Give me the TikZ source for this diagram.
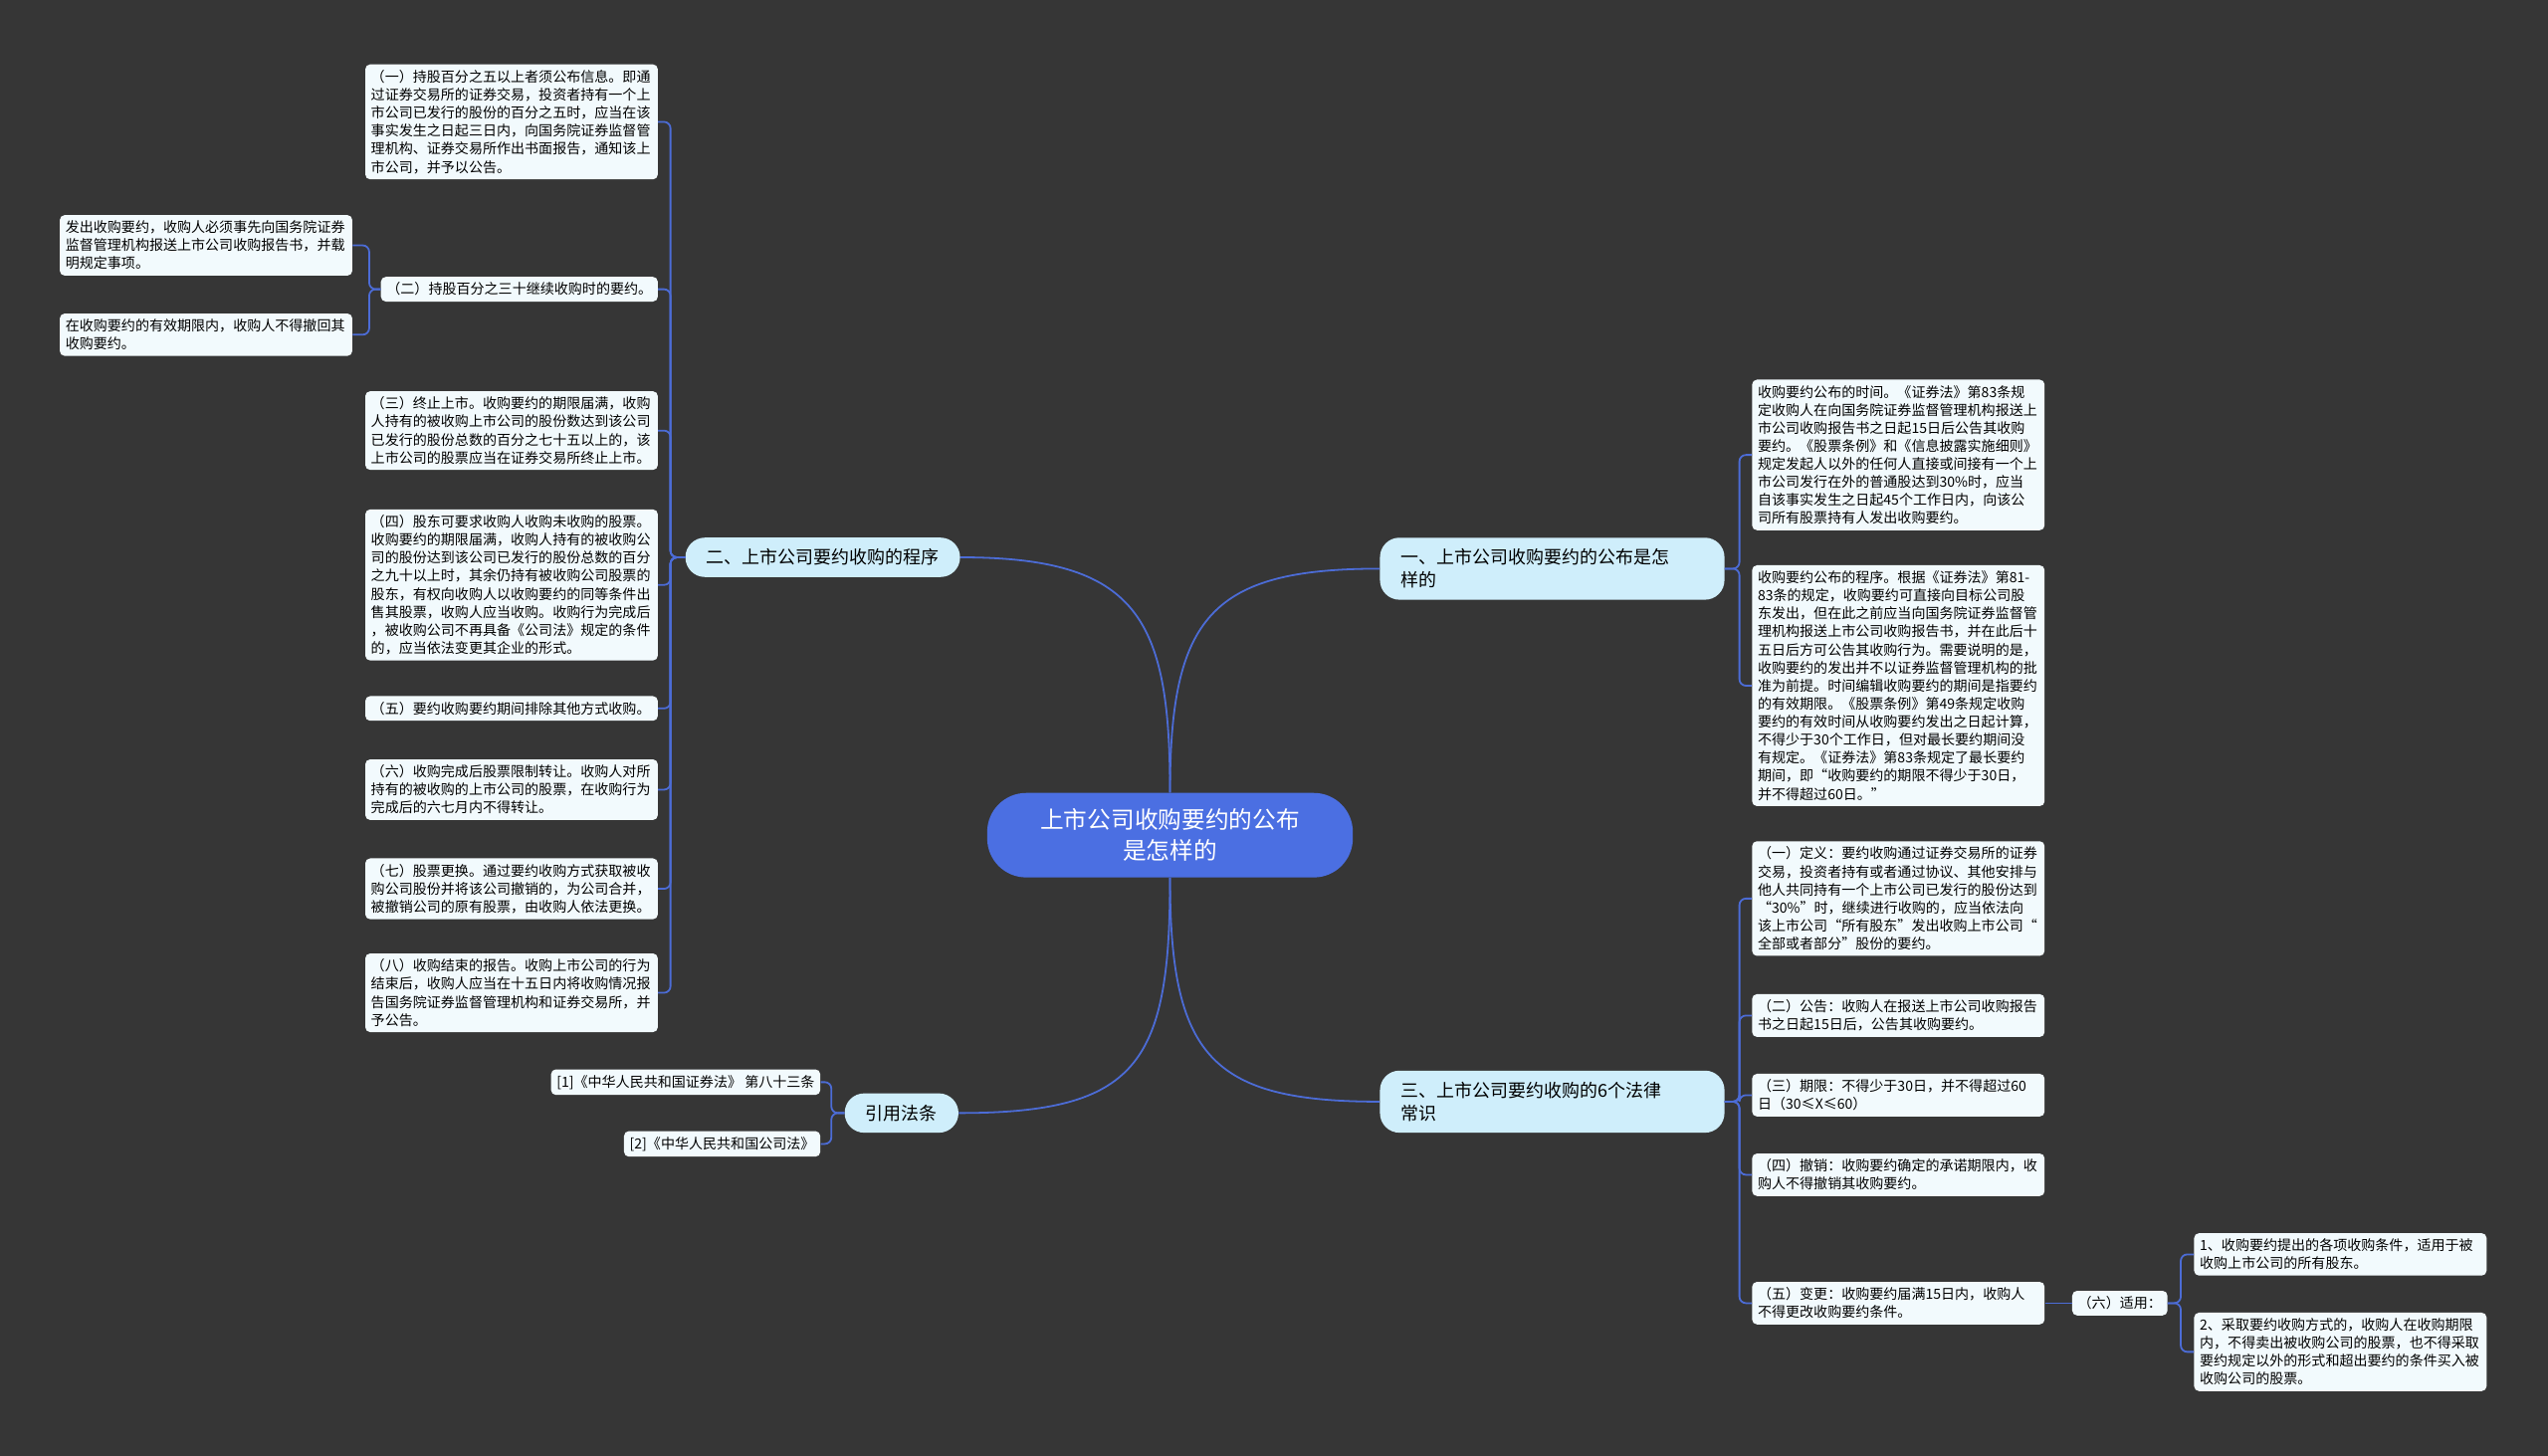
\documentclass[tikz,border=0pt]{standalone}
\usepackage{fontspec}
\setmainfont{Noto Sans CJK SC}
\definecolor{bgc}{HTML}{363636}
\definecolor{linkc}{HTML}{4C6CD6}
\definecolor{leafbg}{HTML}{F2FAFD}
\definecolor{branchbg}{HTML}{CFEEFB}
\definecolor{rootbg}{HTML}{4B6FE2}

\begin{document}
\begin{tikzpicture}[x=1pt,y=-1pt,
    leaf/.style={fill=leafbg, rounded corners=3pt, inner sep=3.5pt, text width=173pt, align=left, font=\fontsize{8.6}{11.1}\selectfont},
    tag/.style={fill=leafbg, rounded corners=3pt, inner sep=3.5pt, align=left, font=\fontsize{8.6}{11.1}\selectfont},
    branch/.style={fill=branchbg, rounded corners=12pt, inner xsep=13pt, inner ysep=7pt, align=left, font=\fontsize{11}{14}\selectfont},
    link/.style={draw=linkc, line width=1.1pt, rounded corners=4pt}]
    \path[use as bounding box, fill=bgc] (0,0) rectangle (1568,896);

    \node[fill=rootbg, text=white, rounded corners=24pt, minimum width=225pt, minimum height=52pt, align=center, font=\fontsize{14.5}{19}\selectfont] (root) at (720,514) {上市公司收购要约的公布\\是怎样的};

    \node[branch, anchor=west, text width=186pt] (r1) at (849,350) {一、上市公司收购要约的公布是怎\\样的};
    \node[branch, anchor=west, text width=186pt] (r2) at (849,678) {三、上市公司要约收购的6个法律\\常识};
    \node[branch, anchor=east] (l1) at (591,343) {二、上市公司要约收购的程序};
    \node[branch, anchor=east] (l2) at (590,685) {引用法条};

    \node[leaf, anchor=east] (la) at (405,75) {（一）持股百分之五以上者须公布信息。即通\\过证券交易所的证券交易，投资者持有一个上\\市公司已发行的股份的百分之五时，应当在该\\事实发生之日起三日内，向国务院证券监督管\\理机构、证券交易所作出书面报告，通知该上\\市公司，并予以公告。};
    \node[tag, anchor=east] (lb) at (405,178) {（二）持股百分之三十继续收购时的要约。};
    \node[leaf, anchor=east] (lba) at (217,151) {发出收购要约，收购人必须事先向国务院证券\\监督管理机构报送上市公司收购报告书，并载\\明规定事项。};
    \node[leaf, anchor=east] (lbb) at (217,206) {在收购要约的有效期限内，收购人不得撤回其\\收购要约。};
    \node[leaf, anchor=east] (lc) at (405,265) {（三）终止上市。收购要约的期限届满，收购\\人持有的被收购上市公司的股份数达到该公司\\已发行的股份总数的百分之七十五以上的，该\\上市公司的股票应当在证券交易所终止上市。};
    \node[leaf, anchor=east] (ld) at (405,360) {（四）股东可要求收购人收购未收购的股票。\\收购要约的期限届满，收购人持有的被收购公\\司的股份达到该公司已发行的股份总数的百分\\之九十以上时，其余仍持有被收购公司股票的\\股东，有权向收购人以收购要约的同等条件出\\售其股票，收购人应当收购。收购行为完成后\\，被收购公司不再具备《公司法》规定的条件\\的，应当依法变更其企业的形式。};
    \node[leaf, anchor=east] (le) at (405,436) {（五）要约收购要约期间排除其他方式收购。};
    \node[leaf, anchor=east] (lf) at (405,486) {（六）收购完成后股票限制转让。收购人对所\\持有的被收购的上市公司的股票，在收购行为\\完成后的六七月内不得转让。};
    \node[leaf, anchor=east] (lg) at (405,547) {（七）股票更换。通过要约收购方式获取被收\\购公司股份并将该公司撤销的，为公司合并，\\被撤销公司的原有股票，由收购人依法更换。};
    \node[leaf, anchor=east] (lh) at (405,611) {（八）收购结束的报告。收购上市公司的行为\\结束后，收购人应当在十五日内将收购情况报\\告国务院证券监督管理机构和证券交易所，并\\予公告。};

    \node[tag, anchor=east] (law1) at (505,666) {[1]《中华人民共和国证券法》 第八十三条};
    \node[tag, anchor=east] (law2) at (505,704) {[2]《中华人民共和国公司法》};

    \node[leaf, anchor=west] (ra) at (1078,280) {收购要约公布的时间。《证券法》第83条规\\定收购人在向国务院证券监督管理机构报送上\\市公司收购报告书之日起15日后公告其收购\\要约。《股票条例》和《信息披露实施细则》\\规定发起人以外的任何人直接或间接有一个上\\市公司发行在外的普通股达到30\%时，应当\\自该事实发生之日起45个工作日内，向该公\\司所有股票持有人发出收购要约。};
    \node[leaf, anchor=west] (rb) at (1078,422) {收购要约公布的程序。根据《证券法》第81-\\83条的规定，收购要约可直接向目标公司股\\东发出，但在此之前应当向国务院证券监督管\\理机构报送上市公司收购报告书，并在此后十\\五日后方可公告其收购行为。需要说明的是，\\收购要约的发出并不以证券监督管理机构的批\\准为前提。时间编辑收购要约的期间是指要约\\的有效期限。《股票条例》第49条规定收购\\要约的有效时间从收购要约发出之日起计算，\\不得少于30个工作日，但对最长要约期间没\\有规定。《证券法》第83条规定了最长要约\\期间，即“收购要约的期限不得少于30日，\\并不得超过60日。”};

    \node[leaf, anchor=west] (rc) at (1078,553) {（一）定义：要约收购通过证券交易所的证券\\交易，投资者持有或者通过协议、其他安排与\\他人共同持有一个上市公司已发行的股份达到\\ “30\%”时，继续进行收购的，应当依法向\\该上市公司“所有股东”发出收购上市公司“\\全部或者部分”股份的要约。};
    \node[leaf, anchor=west] (rd) at (1078,625) {（二）公告：收购人在报送上市公司收购报告\\书之日起15日后，公告其收购要约。};
    \node[leaf, anchor=west] (re) at (1078,674) {（三）期限：不得少于30日，并不得超过60\\日（30≤X≤60）};
    \node[leaf, anchor=west] (rf) at (1078,723) {（四）撤销：收购要约确定的承诺期限内，收\\购人不得撤销其收购要约。};
    \node[leaf, anchor=west] (rg) at (1078,802) {（五）变更：收购要约届满15日内，收购人\\不得更改收购要约条件。};
    \node[tag, anchor=west] (rh) at (1275,802) {（六）适用：};
    \node[leaf, anchor=west] (rha) at (1350,772) {1、收购要约提出的各项收购条件，适用于被\\收购上市公司的所有股东。};
    \node[leaf, anchor=west] (rhb) at (1350,832) {2、采取要约收购方式的，收购人在收购期限\\内，不得卖出被收购公司的股票，也不得采取\\要约规定以外的形式和超出要约的条件买入被\\收购公司的股票。};

    \draw[link] (root.north) .. controls (720,380) and (745,350) .. (r1.west);
    \draw[link] (root.north) .. controls (720,380) and (700,343) .. (l1.east);
    \draw[link] (root.south) .. controls (720,650) and (745,678) .. (r2.west);
    \draw[link] (root.south) .. controls (720,655) and (700,685) .. (l2.east);

    \foreach \n in {la,lb,lc,ld,le,lf,lg,lh}
        \draw[link] (l1.west) -- ++(-9,0) |- (\n.east);
    \foreach \n in {lba,lbb}
        \draw[link] (lb.west) -- ++(-7,0) |- (\n.east);
    \foreach \n in {law1,law2}
        \draw[link] (l2.west) -- ++(-8,0) |- (\n.east);
    \foreach \n in {ra,rb}
        \draw[link] (r1.east) -- ++(9,0) |- (\n.west);
    \foreach \n in {rc,rd,re,rf,rg}
        \draw[link] (r2.east) -- ++(9,0) |- (\n.west);
    \draw[link] (rg.east) -- (rh.west);
    \foreach \n in {rha,rhb}
        \draw[link] (rh.east) -- ++(8,0) |- (\n.west);
\end{tikzpicture}
\end{document}
